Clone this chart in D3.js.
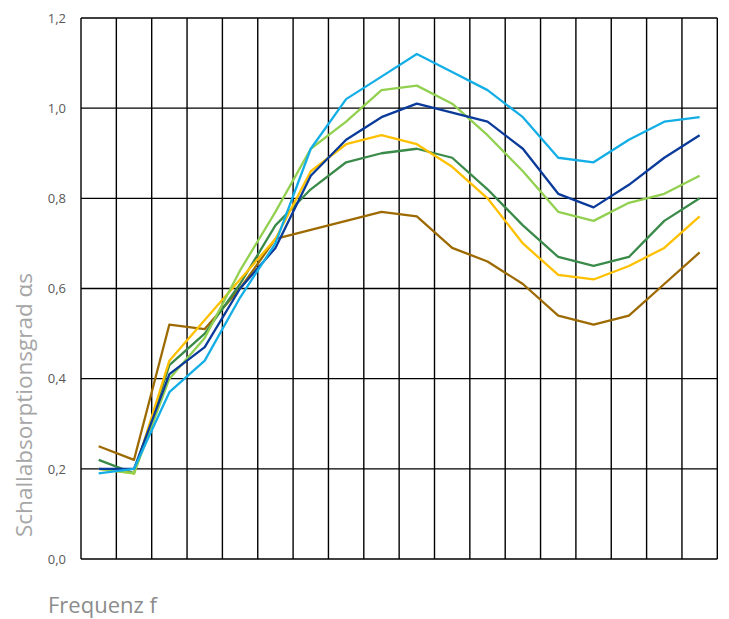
<!DOCTYPE html>
<html>
<head>
<meta charset="utf-8">
<script src="https://cdn.jsdelivr.net/npm/d3@7"></script>
<style>
  html, body { margin: 0; padding: 0; background: #fff; }
  svg { display: block; }
</style>
</head>
<body>
<svg id="chart" width="729" height="619"></svg>
<script>
const categories = ["f1","f2","f3","f4","f5","f6","f7","f8","f9","f10","f11","f12","f13","f14","f15","f16","f17","f18"];
const yTicks = [0, 0.2, 0.4, 0.6, 0.8, 1.0, 1.2];

const lightBlue  = [0.19,0.20,0.37,0.44,0.58,0.70,0.91,1.02,1.07,1.12,1.08,1.04,0.98,0.89,0.88,0.93,0.97,0.98];
const darkBlue   = [0.20,0.20,0.41,0.47,0.60,0.69,0.85,0.93,0.98,1.01,0.99,0.97,0.91,0.81,0.78,0.83,0.89,0.94];
const lightGreen = [0.20,0.19,0.40,0.49,0.64,0.77,0.91,0.97,1.04,1.05,1.01,0.94,0.86,0.77,0.75,0.79,0.81,0.85];
const yellow     = [0.20,0.19,0.44,0.53,0.62,0.71,0.86,0.92,0.94,0.92,0.87,0.80,0.70,0.63,0.62,0.65,0.69,0.76];
const darkGreen  = [0.22,0.19,0.43,0.50,0.61,0.74,0.82,0.88,0.90,0.91,0.89,0.82,0.74,0.67,0.65,0.67,0.75,0.80];
const brown      = [0.25,0.22,0.52,0.51,0.60,0.71,0.73,0.75,0.77,0.76,0.69,0.66,0.61,0.54,0.52,0.54,0.61,0.68];

const series = [
  { values: brown,      color: "#9C6A00" },
  { values: darkGreen,  color: "#3A8A4A" },
  { values: yellow,     color: "#FFC000" },
  { values: lightGreen, color: "#92D050" },
  { values: darkBlue,   color: "#0A3A9A" },
  { values: lightBlue,  color: "#14AEE6" }
];

const svg = d3.select("#chart");
const plotLeft = 81, plotRight = 717.3, plotTop = 18, plotBottom = 559;

const x = d3.scaleBand().domain(categories).range([plotLeft, plotRight]).padding(0);
const y = d3.scaleLinear().domain([0, 1.2]).range([plotBottom, plotTop]);

const fontFam = "'Open Sans', 'Noto Sans', sans-serif";

// horizontal grid
svg.append("g").selectAll("line").data(yTicks).join("line")
  .attr("x1", plotLeft).attr("x2", plotRight)
  .attr("y1", d => y(d)).attr("y2", d => y(d))
  .attr("stroke", "#000").attr("stroke-width", 1.4);

// vertical grid (band boundaries)
const bounds = categories.map(c => x(c)).concat([plotRight]);
svg.append("g").selectAll("line").data(bounds).join("line")
  .attr("x1", d => d).attr("x2", d => d)
  .attr("y1", plotTop).attr("y2", plotBottom)
  .attr("stroke", "#000").attr("stroke-width", 1.4);

// y axis labels
const yAxis = d3.axisLeft(y).tickValues(yTicks)
  .tickFormat(d => d3.format(".1f")(d).replace(".", ","))
  .tickSize(0).tickPadding(15);
const ga = svg.append("g").attr("transform", `translate(${plotLeft},0)`).call(yAxis);
ga.select(".domain").remove();
ga.selectAll("text").attr("fill", "#595959").style("font-family", fontFam).style("font-size", "13px");

// lines
const line = d3.line()
  .x((d, i) => x(categories[i]) + x.bandwidth() / 2)
  .y(d => y(d));

svg.append("g").selectAll("path").data(series).join("path")
  .attr("d", d => line(d.values))
  .attr("fill", "none")
  .attr("stroke", d => d.color)
  .attr("stroke-width", 2.3)
  .attr("stroke-linejoin", "round");

// axis titles
svg.append("text")
  .attr("x", 48).attr("y", 613)
  .attr("fill", "#8C8C8C")
  .style("font-family", fontFam).style("font-size", "22px")
  .text("Frequenz f");

svg.append("text")
  .attr("transform", "translate(32,405) rotate(-90)")
  .attr("text-anchor", "middle")
  .attr("fill", "#A6A6A6")
  .style("font-family", fontFam).style("font-size", "22.5px")
  .text("Schallabsorptionsgrad αs");
</script>
</body>
</html>
